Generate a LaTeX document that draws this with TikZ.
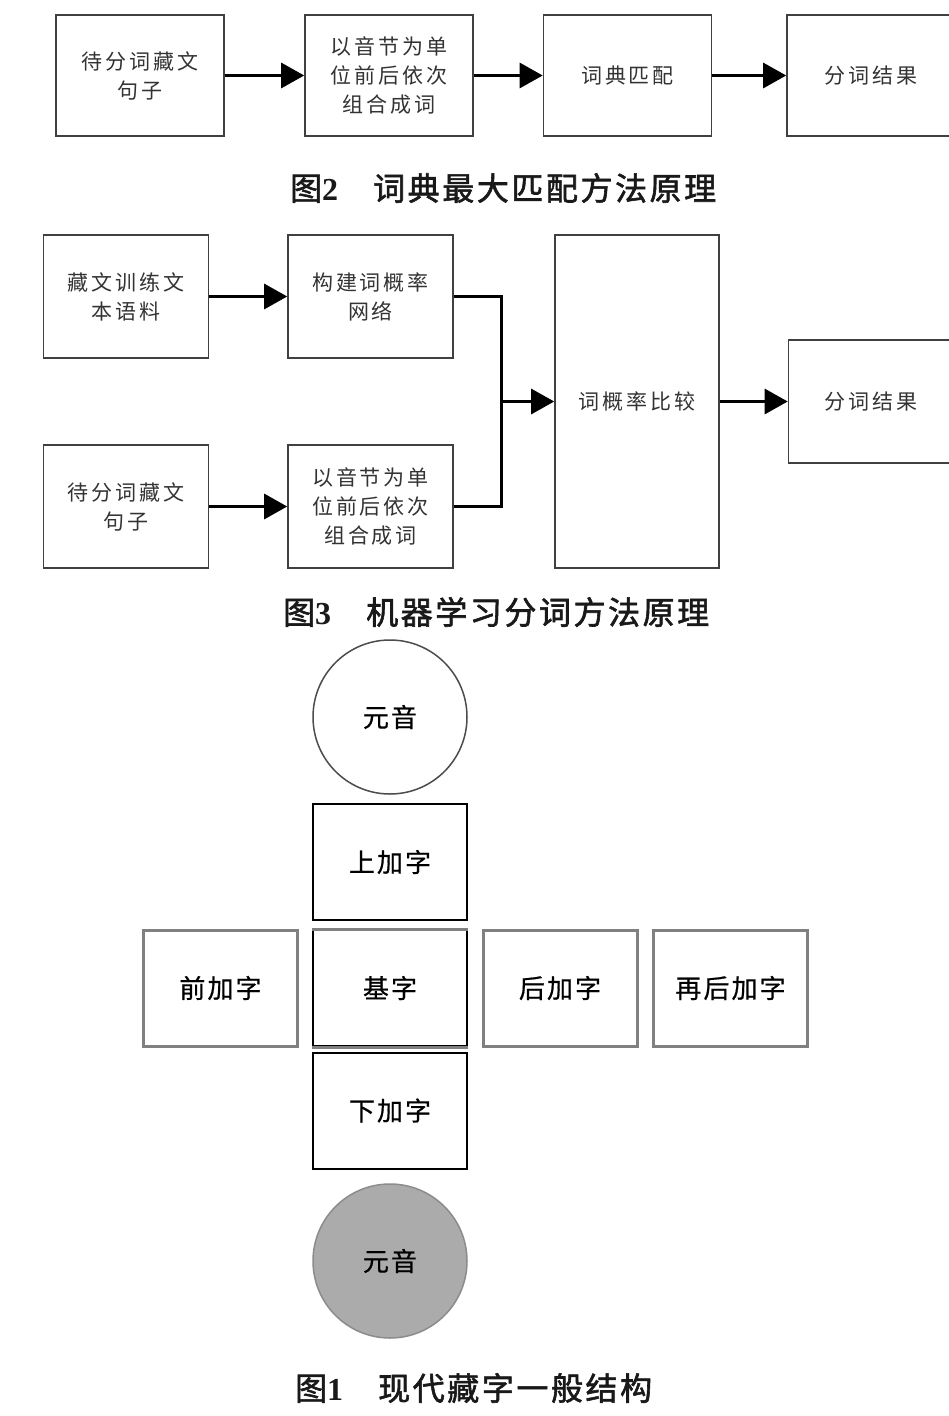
\documentclass[tikz,border=0pt]{standalone}
\usepackage{fontspec}
\usetikzlibrary{arrows.meta}
\newfontfamily\cjk[LetterSpace=14]{Noto Sans CJK SC}
\newfontfamily\cjkfig[LetterSpace=8,FakeBold=0.6]{Noto Sans CJK SC}
\newfontfamily\capfont[LetterSpace=8,FakeBold=1.8]{Noto Sans CJK SC}
\newfontfamily\numfont{Liberation Serif}
\tikzset{
  flowbox/.style={draw=black!75, line width=1.6pt, fill=white, inner sep=2pt, align=center,
    text=black!80, font=\fontsize{21}{29}\selectfont\cjk},
  fbox2/.style={flowbox, minimum width=168pt, minimum height=121pt},
  fbox3/.style={flowbox, minimum width=165pt, minimum height=123pt},
  conn/.style={line width=3pt, black},
  arr/.style={conn, -{Triangle[length=23pt,width=25pt]}},
  partbox/.style={line width=2pt, fill=white, minimum width=154pt, minimum height=116pt,
    inner sep=0pt, text=black, font=\fontsize{26}{30}\selectfont\cjkfig},
  blackpart/.style={partbox, draw=black},
  graypart/.style={partbox, draw=black!50, line width=3pt},
  vowel/.style={circle, minimum size=154pt, inner sep=0pt, line width=1.5pt,
    text=black, font=\fontsize{26}{30}\selectfont\cjkfig},
  caption/.style={anchor=west, inner sep=0pt, text=black!90, font=\fontsize{32}{36}\selectfont}
}
\begin{document}
\begin{tikzpicture}[x=1pt,y=-1pt]
\useasboundingbox[fill=white] (0,0) rectangle (949,1416);

% ---------- Figure 2 ----------
\node[fbox2] (a) at (140,75.5) {待分词藏文\\句子};
\node[fbox2] (b) at (389,75.5) {以音节为单\\位前后依次\\组合成词};
\node[fbox2] (c) at (627.5,75.5) {词典匹配};
\node[fbox2] (d) at (871,75.5) {分词结果};
\draw[arr] (a.east) -- (b.west);
\draw[arr] (b.east) -- (c.west);
\draw[arr] (c.east) -- (d.west);
\node[caption] (cap2) at (290,188) {{\capfont 图}{\numfont\bfseries 2}\hspace{35pt}{\capfont 词典最大匹配方法原理}};

% ---------- Figure 3 ----------
\node[fbox3] (e) at (126,296.5) {藏文训练文\\本语料};
\node[fbox3] (f) at (370.5,296.5) {构建词概率\\网络};
\node[fbox3] (g) at (126,506.5) {待分词藏文\\句子};
\node[fbox3] (h) at (370.5,506.5) {以音节为单\\位前后依次\\组合成词};
\node[flowbox, minimum width=164pt, minimum height=333pt] (i) at (637,401.5) {词概率比较};
\node[fbox3] (j) at (871,401.5) {分词结果};
\coordinate (jn) at (501,401.5);
\draw[arr] (e.east) -- (f.west);
\draw[arr] (g.east) -- (h.west);
\draw[conn] (f.east) -| (jn);
\draw[conn] (h.east) -| (jn);
\draw[arr] (jn) -- (i.west);
\draw[arr] (i.east) -- (j.west);
\node[caption] (cap3) at (283,612) {{\capfont 图}{\numfont\bfseries 3}\hspace{35pt}{\capfont 机器学习分词方法原理}};

% ---------- Figure 1 ----------
\node[vowel, draw=black!70, fill=white] (v1) at (390,717) {元音};
\node[blackpart] (up) at (390,862) {上加字};
\node[blackpart] (base) at (390,988) {基字};
\node[graypart] (pre) at (220.5,988) {前加字};
\node[graypart] (post) at (560,988) {后加字};
\node[graypart] (post2) at (730.5,988) {再后加字};
\node[blackpart] (down) at (390,1110.5) {下加字};
\draw[black!50, line width=3pt] (base.north west) -- (base.north east);
\draw[black!50, line width=3pt] (base.south west) -- (base.south east);
\node[vowel, draw=black!45, fill=black!33] (v2) at (390,1261) {元音};
\node[caption] (cap1) at (295,1388) {{\capfont 图}{\numfont\bfseries 1}\hspace{35pt}{\capfont 现代藏字一般结构}};
\end{tikzpicture}
\end{document}
